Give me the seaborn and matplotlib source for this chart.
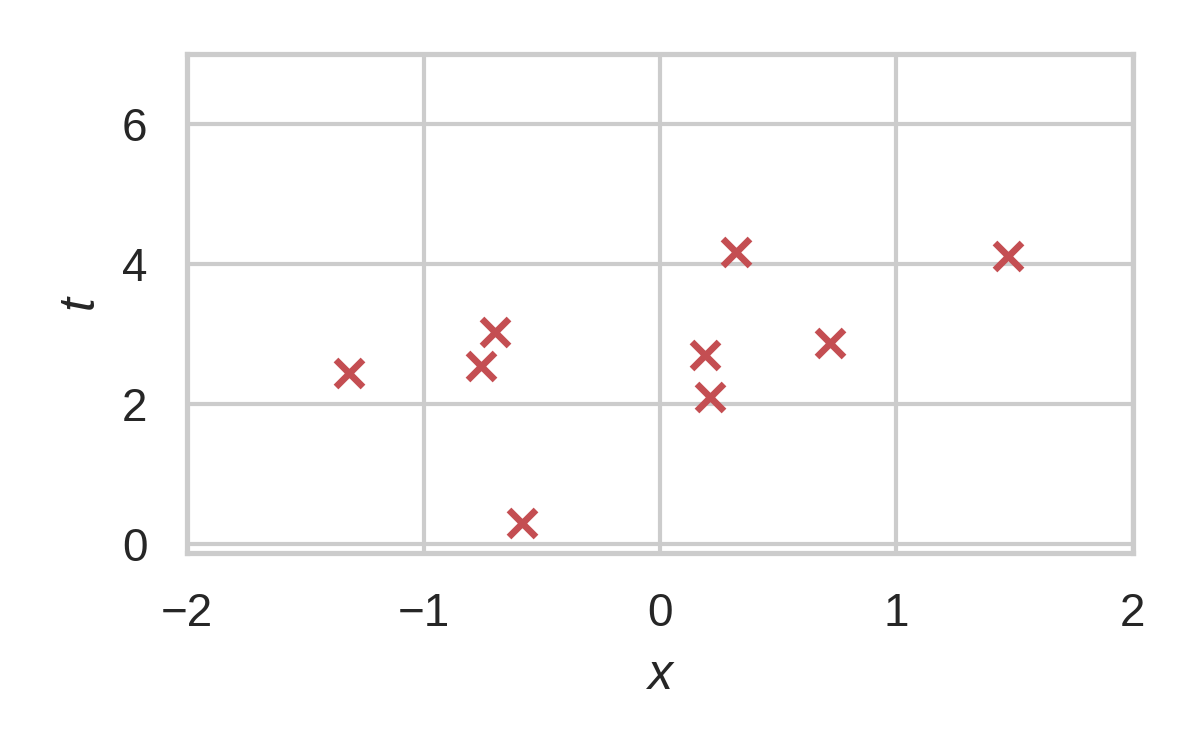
import matplotlib
matplotlib.use("Agg")
import matplotlib.pyplot as plt
import seaborn as sns
import pandas as pd

x_vals = [-1.315, -0.757, -0.698, -0.583, 0.190, 0.211, 0.321, 0.719, 1.471]
t_vals = [2.44, 2.54, 3.03, 0.30, 2.70, 2.11, 4.18, 2.87, 4.11]

sns.set_theme(style="whitegrid", context="notebook", color_codes=True)
plt.rcParams['font.family'] = ['Liberation Sans', 'DejaVu Sans']
plt.rcParams['mathtext.fontset'] = 'custom'
plt.rcParams['mathtext.it'] = 'Liberation Sans:italic'
plt.rcParams['mathtext.rm'] = 'Liberation Sans'

df = pd.DataFrame({"x": x_vals, "t": t_vals})
fig = plt.figure(figsize=(4, 2.5), dpi=300)
ax = fig.add_axes([0.156, 0.263, 0.788, 0.665])
sns.scatterplot(data=df, x="x", y="t", marker="x", color="r", s=42, linewidth=1.6, ax=ax)
ax.set_xlim(-2, 2)
ax.set_ylim(-0.12, 7)
ax.set_xticks([-2, -1, 0, 1, 2])
ax.set_yticks([0, 2, 4, 6])
ax.set_xlabel("$x$")
ax.set_ylabel("$t$")
fig.savefig("out.png", dpi=300)
